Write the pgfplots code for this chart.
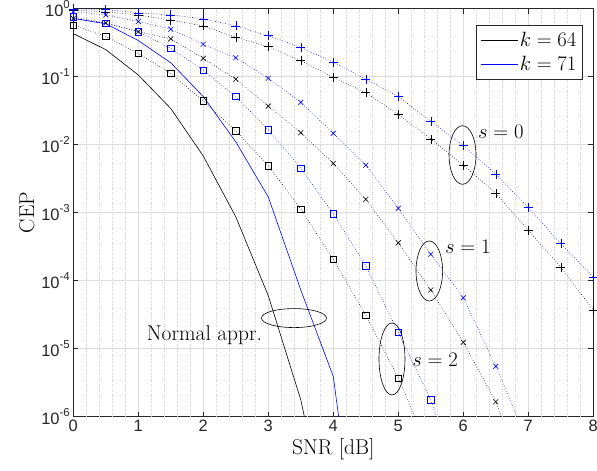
\documentclass[border=0pt]{standalone}
\usepackage{fontspec}
\usepackage{pgfplots}
\pgfplotsset{compat=1.18}
\newfontfamily\ticksf{Liberation Sans}
\newcommand\tp[1]{10\raisebox{0.45em}{\fontsize{11.5}{12}\selectfont #1}}
\definecolor{mblue}{RGB}{0,0,255}
\definecolor{axc}{RGB}{38,38,38}
\begin{document}
\begin{tikzpicture}
\begin{axis}[
  scale only axis, width=520bp, height=408bp,
  ymode=log, log basis y=10,
  xmin=0, xmax=8, ymin=1e-6, ymax=1,
  xtick={0,1,2,3,4,5,6,7,8},
  xticklabels={0,1,2,3,4,5,6,7,8},
  ytick={1e-6,1e-5,1e-4,1e-3,1e-2,1e-1,1},
  yticklabels={\tp{-6},\tp{-5},\tp{-4},\tp{-3},\tp{-2},\tp{-1},\tp{0}},
  tick label style={font=\ticksf\fontsize{16.5}{18}\selectfont, color=axc},
  label style={font=\fontsize{21.5}{24}\selectfont},
  xlabel={SNR [dB]}, ylabel={CEP},
  xmajorgrids, ymajorgrids, yminorgrids,
  major grid style={color=black!13, line width=0.5bp},
  minor grid style={color=black!20, dotted, line width=0.5bp},
  axis line style={axc, line width=0.5bp},
  tick style={axc, line width=0.5bp},
  tick align=inside,
  major tick length=5bp, minor tick length=3bp,
  extra x ticks={0.2,0.4,0.6,0.8,1.2,1.4,1.6,1.8,2.2,2.4,2.6,2.8,3.2,3.4,3.6,3.8,4.2,4.4,4.6,4.8,5.2,5.4,5.6,5.8,6.2,6.4,6.6,6.8,7.2,7.4,7.6,7.8},
  extra x tick labels={},
  extra x tick style={major tick length=0pt, major grid style={color=black!18, dotted, line width=0.5bp}},
  legend style={at={(0.9796,0.960)}, anchor=north east, font=\fontsize{21.5}{24}\selectfont, draw=black!85, line width=0.5bp, fill=white, inner xsep=4bp, inner ysep=5bp, row sep=4bp},
  legend cell align=left,
  legend image code/.code={\draw[#1, line width=0.8bp] (0bp,0bp) -- (37bp,0bp);},
]
% Normal approximations
\addplot[black, line width=0.6bp] coordinates {(0,0.43)(0.5,0.25)(1,0.106)(1.5,0.034)(2,0.0068)(2.5,8.7e-4)(3,6e-5)(3.5,1.77e-6)(4,1e-8)};
\addlegendentry{$k=64$}
\addplot[mblue, line width=0.6bp] coordinates {(0,0.72)(0.5,0.60)(1,0.34)(1.5,0.16)(2,0.051)(2.5,0.011)(3,0.0017)(3.5,7.3e-5)(4,3.9e-6)(4.5,1e-9)};
\addlegendentry{$k=71$}
% s = 0
\addplot[black, dotted, line width=0.6bp, mark=+, mark size=4.5bp, mark options={solid}, forget plot] coordinates {(0,0.95)(0.5,0.90)(1,0.81)(1.5,0.68)(2,0.56)(2.5,0.38)(3,0.276)(3.5,0.172)(4,0.098)(4.5,0.058)(5,0.028)(5.5,0.0121)(6,0.005)(6.5,0.00193)(7,5.5e-4)(7.5,1.58e-4)(8,3.7e-5)};
\addplot[mblue, dotted, line width=0.6bp, mark=+, mark size=4.5bp, mark options={solid}, forget plot] coordinates {(0,0.99)(0.5,0.97)(1,0.87)(1.5,0.81)(2,0.71)(2.5,0.56)(3,0.40)(3.5,0.27)(4,0.163)(4.5,0.092)(5,0.051)(5.5,0.022)(6,0.0097)(6.5,0.0037)(7,0.00119)(7.5,3.5e-4)(8,1.13e-4)};
% s = 1
\addplot[black, dotted, line width=0.6bp, mark=x, mark size=3.5bp, mark options={solid}, forget plot] coordinates {(0,0.72)(0.5,0.62)(1,0.46)(1.5,0.36)(2,0.186)(2.5,0.092)(3,0.037)(3.5,0.015)(4,0.0053)(4.5,0.00157)(5,3.6e-4)(5.5,7.3e-5)(6,1.24e-5)(6.5,1.66e-6)(7,8e-8)};
\addplot[mblue, dotted, line width=0.6bp, mark=x, mark size=3.5bp, mark options={solid}, forget plot] coordinates {(0,0.9)(0.5,0.81)(1,0.65)(1.5,0.50)(2,0.30)(2.5,0.19)(3,0.095)(3.5,0.042)(4,0.0147)(4.5,0.005)(5,0.00116)(5.5,2.45e-4)(6,5.6e-5)(6.5,5.5e-6)(7,4e-7)};
% s = 2
\addplot[black, dotted, line width=0.6bp, mark=square, mark size=3.2bp, mark options={solid}, forget plot] coordinates {(0,0.575)(0.5,0.39)(1,0.22)(1.5,0.112)(2,0.044)(2.5,0.016)(3,0.0049)(3.5,0.00113)(4,2.06e-4)(4.5,3.1e-5)(5,3.7e-6)(5.5,2.7e-7)};
\addplot[mblue, dotted, line width=0.6bp, mark=square, mark size=3.2bp, mark options={solid}, forget plot] coordinates {(0,0.76)(0.5,0.61)(1,0.46)(1.5,0.26)(2,0.125)(2.5,0.051)(3,0.0165)(3.5,0.0045)(4,9.6e-4)(4.5,1.66e-4)(5,1.73e-5)(5.5,1.77e-6)(6,6e-8)};
% annotations
\draw[black, line width=0.6bp] (axis cs:5.988,7.06e-3) ellipse [x radius=13.5bp, y radius=29.3bp];
\draw[black, line width=0.6bp] (axis cs:5.477,1.39e-4) ellipse [x radius=13.3bp, y radius=30bp];
\draw[black, line width=0.6bp] (axis cs:4.903,7.06e-6) ellipse [x radius=13bp, y radius=36bp];
\draw[black, line width=0.6bp] (axis cs:3.395,2.82e-5) ellipse [x radius=32.5bp, y radius=9.5bp];
\node[anchor=west, inner sep=0pt, font=\fontsize{21.5}{24}\selectfont] at (axis cs:6.226,0.0155) {$s=0$};
\node[anchor=west, inner sep=0pt, font=\fontsize{21.5}{24}\selectfont] at (axis cs:5.718,3.16e-4) {$s=1$};
\node[anchor=west, inner sep=0pt, font=\fontsize{21.5}{24}\selectfont] at (axis cs:5.215,6.78e-6) {$s=2$};
\node[anchor=west, inner sep=0pt, font=\fontsize{21.5}{24}\selectfont] at (axis cs:1.129,1.59e-5) {Normal appr.};
\end{axis}
\pgfresetboundingbox
\path[use as bounding box] ([xshift=-73.3bp,yshift=-54.3bp]current axis.south west) rectangle ([xshift=3.7bp,yshift=8.7bp]current axis.north east);
\end{tikzpicture}
\end{document}
